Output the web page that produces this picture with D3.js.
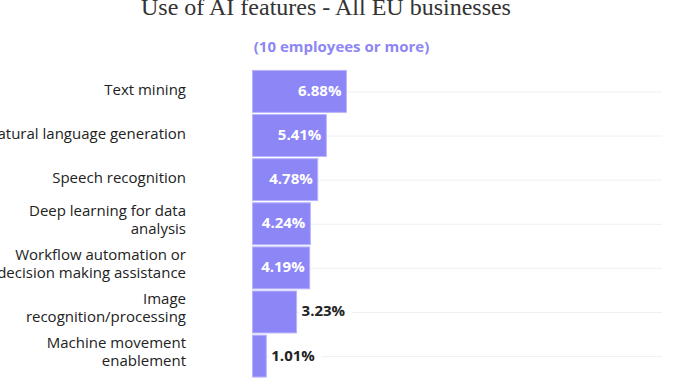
<!DOCTYPE html>
<html><head><meta charset="utf-8">
<script src="https://cdn.jsdelivr.net/npm/d3@7/dist/d3.min.js"></script>
<style>body{margin:0;background:#fff}svg{display:block}</style>
</head><body>
<svg id="c" width="700" height="388"></svg>
<script>
const categories = [
  ["Text mining"],
  ["Natural language generation"],
  ["Speech recognition"],
  ["Deep learning for data", "analysis"],
  ["Workflow automation or", "decision making assistance"],
  ["Image", "recognition/processing"],
  ["Machine movement", "enablement"]
];
const values = [6.88, 5.41, 4.78, 4.24, 4.19, 3.23, 1.01];
const valueLabels = ["6.88%", "5.41%", "4.78%", "4.24%", "4.19%", "3.23%", "1.01%"];
const title = "Use of AI features - All EU businesses";
const subtitle = "(10 employees or more)";

const svg = d3.select("#c");
const x = d3.scaleLinear().domain([0, 30]).range([252.5, 662]);
const y = d3.scaleBand().domain(d3.range(values.length)).range([70, 377.5]).paddingInner(0.05).paddingOuter(0.01);

svg.append("text").attr("x", 326).attr("y", 15).attr("text-anchor", "middle")
  .attr("font-family", "Liberation Serif, DejaVu Serif, serif").attr("font-size", 24)
  .attr("fill", "#333").text(title);
svg.append("text").attr("x", 341.5).attr("y", 52).attr("text-anchor", "middle")
  .attr("font-family", "Open Sans, sans-serif").attr("font-weight", 700).attr("font-size", 15)
  .attr("fill", "#8d86f5").text(subtitle);

// gridlines
svg.append("g").selectAll("line").data(values).join("line")
  .attr("x1", x(0)).attr("x2", x(30))
  .attr("y1", (d, i) => y(i) + y.bandwidth() / 2 + 0.5)
  .attr("y2", (d, i) => y(i) + y.bandwidth() / 2 + 0.5)
  .attr("stroke", "#f0f0f0").attr("stroke-width", 1);

// bars
svg.append("g").selectAll("rect").data(values).join("rect")
  .attr("x", x(0)).attr("y", (d, i) => y(i))
  .attr("width", d => x(d) - x(0)).attr("height", y.bandwidth())
  .attr("fill", "#8d86f7").attr("stroke", "#b9b4fb").attr("stroke-width", 1);

// category labels
const lab = svg.append("g").selectAll("text").data(categories).join("text")
  .attr("text-anchor", "end").attr("font-family", "Open Sans, sans-serif").attr("font-size", 15)
  .attr("fill", "#222");
lab.each(function (lines, i) {
  const cy = y(i) + y.bandwidth() / 2;
  const lh = 17.5;
  const start = lines.length === 1 ? cy + 3.5 : cy - lh / 2 + 1;
  d3.select(this).selectAll("tspan").data(lines).join("tspan")
    .attr("x", 186).attr("y", (d, j) => start + j * lh).text(d => d);
});

// value labels
const g = svg.append("g");
values.forEach((v, i) => {
  const inside = (x(v) - x(0)) > 55;
  const cy = y(i) + y.bandwidth() / 2 + 4.5;
  if (!inside) {
    const t = g.append("text").attr("x", x(v) + 5).attr("y", cy)
      .attr("font-family", "Open Sans, sans-serif").attr("font-weight", 700).attr("font-size", 15)
      .attr("fill", "#222").text(valueLabels[i]);
    const bb = t.node().getBBox();
    g.insert("rect", "text").attr("x", bb.x - 2).attr("y", bb.y).attr("width", bb.width + 8).attr("height", bb.height).attr("fill", "#fff");
  } else {
    g.append("text").attr("x", x(v) - 5).attr("y", cy).attr("text-anchor", "end")
      .attr("font-family", "Open Sans, sans-serif").attr("font-weight", 700).attr("font-size", 15)
      .attr("fill", "#fff").text(valueLabels[i]);
  }
});
</script>
</body></html>
